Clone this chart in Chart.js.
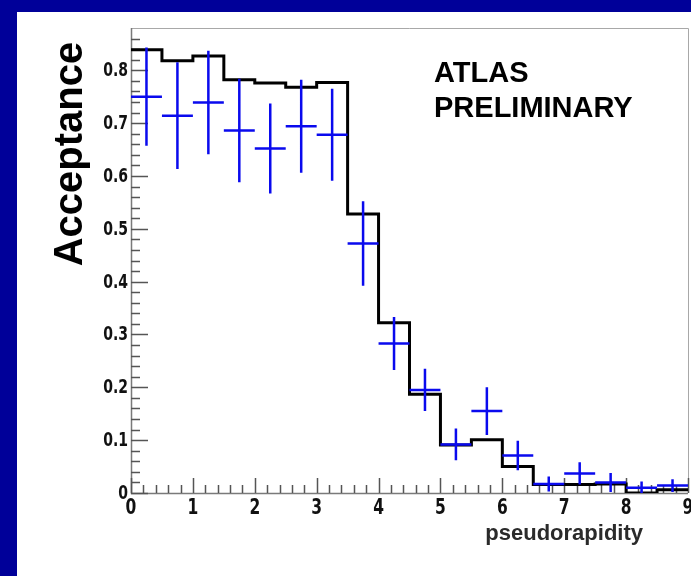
<!DOCTYPE html>
<html>
<head>
<meta charset="utf-8">
<title>Acceptance vs pseudorapidity</title>
<script src="https://cdn.jsdelivr.net/npm/chart.js@4.4.1/dist/chart.umd.min.js"></script>
<style>
    html, body { margin: 0; padding: 0; }
    body { width: 691px; height: 576px; background: #000099; position: relative; overflow: hidden; }
    .panel { position: absolute; left: 17px; top: 12px; width: 674px; height: 564px; background: #ffffff; }
    #acceptanceChart { position: absolute; left: 0; top: 0; }
</style>
</head>
<body>
<div class="panel"></div>
<canvas id="acceptanceChart" width="691" height="576"></canvas>
<script>
// Bin edges in pseudorapidity (0.5 wide bins)
const binEdges = [0, 0.5, 1, 1.5, 2, 2.5, 3, 3.5, 4, 4.5, 5, 5.5, 6, 6.5, 7, 7.5, 8, 8.5, 9];

// Simulated acceptance per bin (black histogram)
const simAcceptance = [0.839, 0.818, 0.827, 0.782, 0.776, 0.768, 0.777, 0.528, 0.322, 0.187,
    0.091, 0.101, 0.050, 0.016, 0.016, 0.017, 0.000, 0.006];

// Measured acceptance per bin and its uncertainty (blue crosses)
const dataAcceptance = [0.750, 0.714, 0.739, 0.686, 0.652, 0.694, 0.678, 0.472, 0.283, 0.195,
    0.092, 0.155, 0.071, 0.017, 0.037, 0.020, 0.010, 0.014];
const dataError = [0.093, 0.101, 0.098, 0.098, 0.085, 0.088, 0.087, 0.080, 0.050, 0.040,
    0.030, 0.045, 0.028, 0.014, 0.021, 0.018, 0.012, 0.012];

// Axis labels
const xTickLabels = ['0', '1', '2', '3', '4', '5', '6', '7', '8', '9'];
const yTickLabels = ['0', '0.1', '0.2', '0.3', '0.4', '0.5', '0.6', '0.7', '0.8'];

const TICK_FONT = '"Liberation Sans Narrow", "DejaVu Sans Condensed", "Liberation Sans", sans-serif';
const TEXT_FONT = '"Liberation Sans", Arial, sans-serif';

document.addEventListener('DOMContentLoaded', function() {
    const ctx = document.getElementById('acceptanceChart').getContext('2d');
    createChart(ctx);
});

// Histogram outline as stepped points: one point per lower edge plus the last edge
function buildHistogramPoints() {
    const points = simAcceptance.map((v, i) => ({ x: binEdges[i], y: v }));
    points.push({ x: binEdges[binEdges.length - 1], y: simAcceptance[simAcceptance.length - 1] });
    return points;
}

// Error crosses as separate segments, broken by null points
function buildCrossPoints() {
    const points = [];
    dataAcceptance.forEach((v, i) => {
        const lo = binEdges[i];
        const hi = binEdges[i + 1];
        const mid = (lo + hi) / 2;
        points.push({ x: lo, y: v }, { x: hi, y: v }, { x: mid, y: null });
        points.push({ x: mid, y: Math.max(0, v - dataError[i]) }, { x: mid, y: v + dataError[i] }, { x: mid, y: null });
    });
    return points;
}

// Narrow label: squeeze the glyphs horizontally around the anchor point
function drawNarrowText(ctx, text, x, y, squeeze) {
    ctx.save();
    ctx.translate(x, y);
    ctx.scale(squeeze, 1);
    ctx.fillText(text, 0, 0);
    ctx.restore();
}

// Frame, ticks and texts drawn in ROOT style
const rootFramePlugin = {
    id: 'rootFrame',
    beforeDatasetsDraw(chart) {
        const { ctx, chartArea: area, scales } = chart;
        const xs = scales.x;
        const ys = scales.y;
        ctx.save();

        // frame
        ctx.lineWidth = 1;
        ctx.strokeStyle = '#a8a8a8';
        ctx.beginPath();
        ctx.moveTo(area.left, area.top + 0.5);
        ctx.lineTo(area.right + 0.5, area.top + 0.5);
        ctx.lineTo(area.right + 0.5, area.bottom);
        ctx.stroke();

        ctx.strokeStyle = '#7a7a7a';
        ctx.lineWidth = 1.5;
        ctx.beginPath();
        ctx.moveTo(area.left + 0.5, area.top);
        ctx.lineTo(area.left + 0.5, area.bottom + 0.5);
        ctx.lineTo(area.right, area.bottom + 0.5);
        ctx.stroke();

        // y ticks: major every 0.1, minor every 0.02
        ctx.strokeStyle = '#555555';
        ctx.lineWidth = 1.5;
        ctx.beginPath();
        for (let k = 0; k <= 43; k++) {
            const v = k * 0.02;
            const py = Math.round(ys.getPixelForValue(v)) + 0.5;
            const len = (k % 5 === 0) ? 17 : 9;
            ctx.moveTo(area.left, py);
            ctx.lineTo(area.left + len, py);
        }
        // x ticks: major every 1, minor every 0.2
        for (let k = 0; k <= 45; k++) {
            const v = k * 0.2;
            const px = Math.round(xs.getPixelForValue(v)) + 0.5;
            const len = (k % 5 === 0) ? 15 : 8;
            ctx.moveTo(px, area.bottom);
            ctx.lineTo(px, area.bottom - len);
        }
        ctx.stroke();
        ctx.restore();
    },
    afterDraw(chart) {
        const { ctx, chartArea: area, scales } = chart;
        const xs = scales.x;
        const ys = scales.y;
        ctx.save();
        ctx.fillStyle = '#111111';

        // y tick labels
        ctx.font = 'bold 19px ' + TICK_FONT;
        ctx.textAlign = 'right';
        ctx.textBaseline = 'middle';
        yTickLabels.forEach(label => {
            const py = ys.getPixelForValue(parseFloat(label));
            drawNarrowText(ctx, label, area.left - 3, py + 1, 0.82);
        });

        // x tick labels
        ctx.font = 'bold 21px ' + TICK_FONT;
        ctx.textAlign = 'center';
        ctx.textBaseline = 'alphabetic';
        xTickLabels.forEach(label => {
            const px = xs.getPixelForValue(parseFloat(label));
            drawNarrowText(ctx, label, px, area.bottom + 21, 0.82);
        });

        // axis titles
        ctx.font = 'bold 22px ' + TEXT_FONT;
        ctx.textAlign = 'right';
        ctx.fillStyle = '#2a2a2a';
        ctx.fillText('pseudorapidity', 643, 540);

        ctx.fillStyle = '#000000';
        ctx.save();
        ctx.translate(82, 154);
        ctx.rotate(-Math.PI / 2);
        ctx.font = 'bold 40px ' + TEXT_FONT;
        ctx.textAlign = 'center';
        ctx.fillText('Acceptance', 0, 0);
        ctx.restore();

        // experiment label
        ctx.font = 'bold 29px ' + TEXT_FONT;
        ctx.textAlign = 'left';
        ctx.fillText('ATLAS', 434, 82);
        ctx.fillText('PRELIMINARY', 434, 117);
        ctx.restore();
    }
};

function createChart(ctx) {
    new Chart(ctx, {
        type: 'scatter',
        data: {
            datasets: [
                {
                    label: 'data',
                    data: buildCrossPoints(),
                    showLine: true,
                    spanGaps: false,
                    borderColor: '#0a0aee',
                    borderWidth: 2.5,
                    pointRadius: 0,
                    order: 0
                },
                {
                    label: 'simulation',
                    data: buildHistogramPoints(),
                    showLine: true,
                    stepped: 'before',
                    borderColor: '#000000',
                    borderWidth: 3,
                    pointRadius: 0,
                    order: 1
                }
            ]
        },
        options: {
            responsive: false,
            animation: false,
            devicePixelRatio: 1,
            layout: {
                padding: { left: 131, top: 28, right: 3, bottom: 83 }
            },
            plugins: {
                legend: { display: false },
                tooltip: { enabled: false }
            },
            scales: {
                x: { type: 'linear', min: 0, max: 9, display: false },
                y: { type: 'linear', min: 0, max: 0.88, display: false }
            }
        },
        plugins: [rootFramePlugin]
    });
}
</script>
</body>
</html>
